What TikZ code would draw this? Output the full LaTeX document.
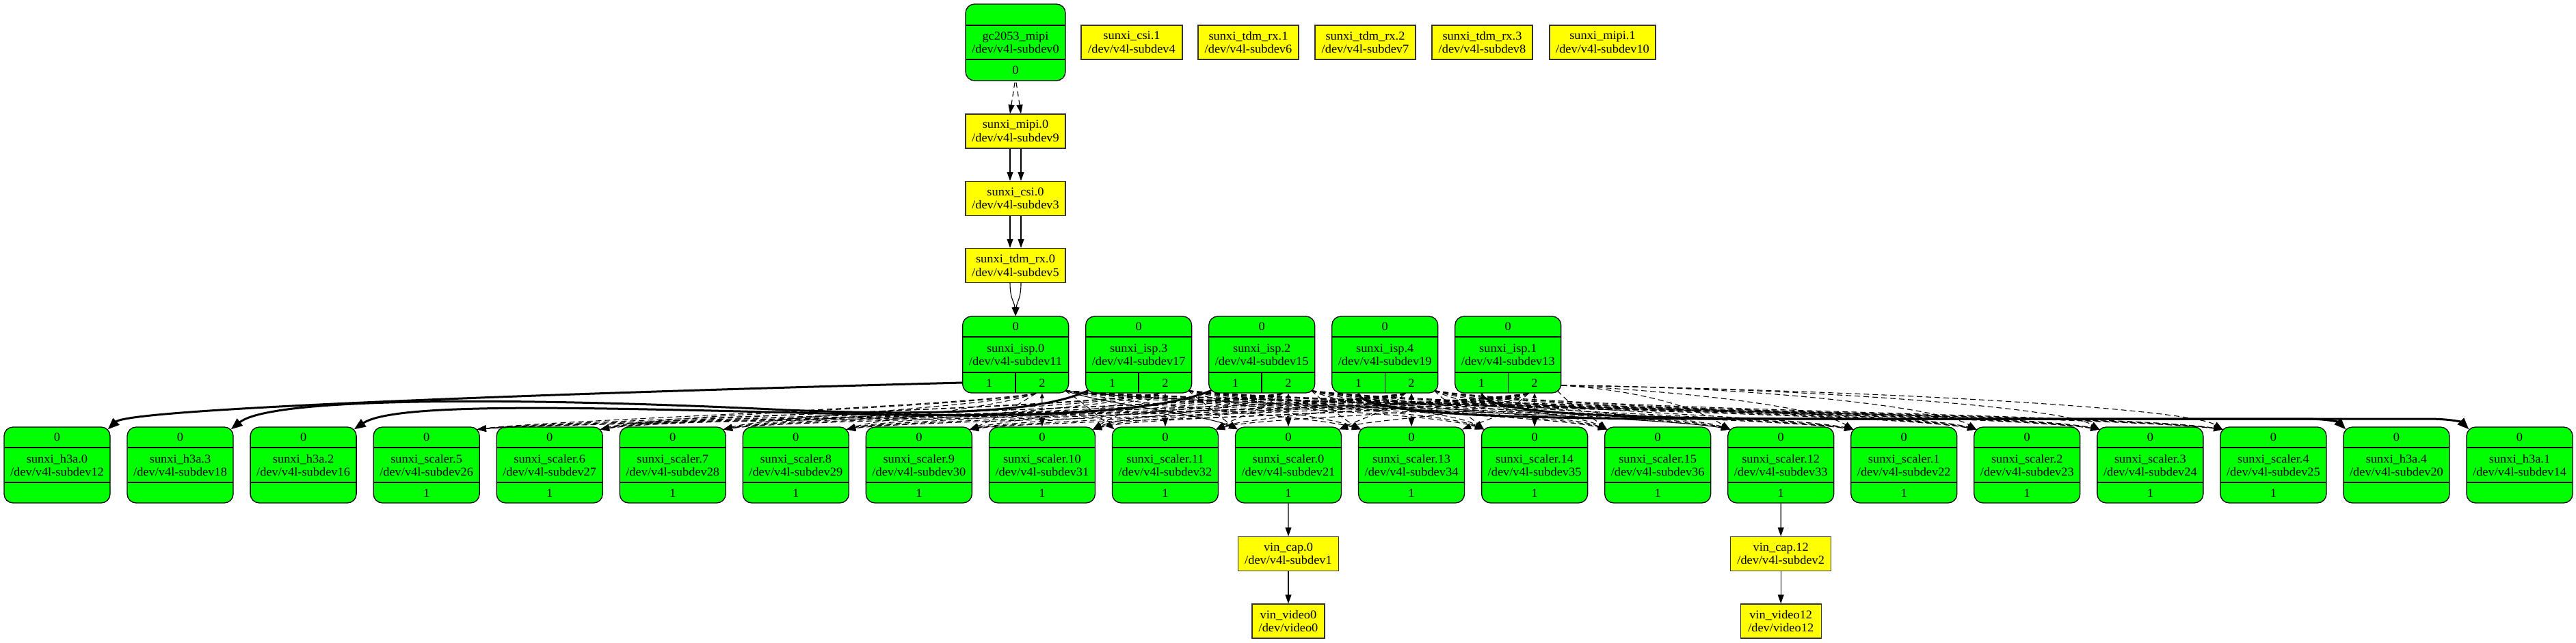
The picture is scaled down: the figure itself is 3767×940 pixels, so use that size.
\documentclass[tikz,border=0pt]{standalone}
\usepackage{fontspec}
\setmainfont{Liberation Serif}[FakeStretch=1.05]
\usetikzlibrary{arrows.meta,calc}
\definecolor{grn}{RGB}{0,255,0}
\definecolor{ylw}{RGB}{255,255,0}
\newif\iffarr
\tikzset{
  lbl/.style={font=\fontsize{17.5}{19.5}\selectfont, inner sep=0pt, align=center},
  mrec/.style={draw=black, line width=1.3pt, fill=grn, rounded corners=13pt, minimum width=155pt, minimum height=111pt, inner sep=0pt},
  ybox/.style={draw=black!80, line width=1.4pt, fill=ylw, minimum height=50pt, inner sep=0pt, lbl},
  sepl/.style={line width=1.5pt},
  ed/.style={line width=1.1pt, -{Triangle[length=13pt,width=9pt]}},
  ded/.style={ed, dash pattern=on 8pt off 5pt},
  bed/.style={line width=3pt, -{Triangle[length=17pt,width=13pt]}},
}
% bottom-row record node: name, index, title, device, output port
\newcommand\bnode[5]{%
  \pgfmathsetmacro\bX{83.5+180.05*#2}%
  \node[mrec] (#1) at (\bX,680.5) {};
  \draw[sepl] ({\bX-77},655) -- ({\bX+77},655);
  \draw[sepl] ({\bX-77},706) -- ({\bX+77},706);
  \node[lbl] (#1-in) at (\bX,640) {0};
  \node[lbl] (#1-tx) at (\bX,681) {#3\\#4};
  \node[lbl] (#1-out) at (\bX,721.5) {#5};
}
% isp record node: name, index, title, device
\newcommand\inode[4]{%
  \pgfmathsetmacro\iX{1485.1+180.05*#2}%
  \node[mrec, minimum height=112pt] (#1) at (\iX,519) {};
  \draw[sepl] ({\iX-77},493) -- ({\iX+77},493);
  \draw[sepl] ({\iX-77},545) -- ({\iX+77},545);
  \draw[sepl] (\iX,545) -- (\iX,575);
  \node[lbl] (#1-in) at (\iX,478) {0};
  \node[lbl] (#1-tx) at (\iX,519.5) {#3\\#4};
  \node[lbl] (#1-p1) at ({\iX-38.75},560.5) {1};
  \node[lbl] (#1-p2) at ({\iX+38.75},560.5) {2};
}
\begin{document}
\begin{tikzpicture}[x=1pt,y=-1pt]
\fill[white] (0,0) rectangle (3767,940);
\useasboundingbox (0,0) rectangle (3767,940);

% sensor
\node[mrec, minimum width=146pt, minimum height=112pt] (gc) at (1485,62) {};
\draw[sepl] (1413,37) -- (1557,37);
\draw[sepl] (1413,87) -- (1557,87);
\node[lbl] (gc-tx) at (1485,62.5) {gc2053\_mipi\\/dev/v4l-subdev0};
\node[lbl] (gc-out) at (1485,103) {0};

% top yellow boxes
\node[ybox, minimum width=148pt] (csi1) at (1655,62) {sunxi\_csi.1\\/dev/v4l-subdev4};
\node[ybox, minimum width=147pt] (tdm1) at (1825.5,62) {sunxi\_tdm\_rx.1\\/dev/v4l-subdev6};
\node[ybox, minimum width=147pt] (tdm2) at (1996.5,62) {sunxi\_tdm\_rx.2\\/dev/v4l-subdev7};
\node[ybox, minimum width=147pt] (tdm3) at (2167.5,62) {sunxi\_tdm\_rx.3\\/dev/v4l-subdev8};
\node[ybox, minimum width=155pt] (mipi1) at (2343.5,62) {sunxi\_mipi.1\\/dev/v4l-subdev10};

\node[ybox, minimum width=146pt] (mipi0) at (1485,192) {sunxi\_mipi.0\\/dev/v4l-subdev9};
\node[ybox, minimum width=146pt] (csi0) at (1485,290.5) {sunxi\_csi.0\\/dev/v4l-subdev3};
\node[ybox, minimum width=146pt] (tdm0) at (1485,388.5) {sunxi\_tdm\_rx.0\\/dev/v4l-subdev5};

% isp row
\inode{isp0}{0}{sunxi\_isp.0}{/dev/v4l-subdev11}
\inode{isp3}{1}{sunxi\_isp.3}{/dev/v4l-subdev17}
\inode{isp2}{2}{sunxi\_isp.2}{/dev/v4l-subdev15}
\inode{isp4}{3}{sunxi\_isp.4}{/dev/v4l-subdev19}
\inode{isp1}{4}{sunxi\_isp.1}{/dev/v4l-subdev13}

% bottom row
\bnode{h3a0}{0}{sunxi\_h3a.0}{/dev/v4l-subdev12}{}
\bnode{h3a3}{1}{sunxi\_h3a.3}{/dev/v4l-subdev18}{}
\bnode{h3a2}{2}{sunxi\_h3a.2}{/dev/v4l-subdev16}{}
\bnode{sc5}{3}{sunxi\_scaler.5}{/dev/v4l-subdev26}{1}
\bnode{sc6}{4}{sunxi\_scaler.6}{/dev/v4l-subdev27}{1}
\bnode{sc7}{5}{sunxi\_scaler.7}{/dev/v4l-subdev28}{1}
\bnode{sc8}{6}{sunxi\_scaler.8}{/dev/v4l-subdev29}{1}
\bnode{sc9}{7}{sunxi\_scaler.9}{/dev/v4l-subdev30}{1}
\bnode{sc10}{8}{sunxi\_scaler.10}{/dev/v4l-subdev31}{1}
\bnode{sc11}{9}{sunxi\_scaler.11}{/dev/v4l-subdev32}{1}
\bnode{sc0}{10}{sunxi\_scaler.0}{/dev/v4l-subdev21}{1}
\bnode{sc13}{11}{sunxi\_scaler.13}{/dev/v4l-subdev34}{1}
\bnode{sc14}{12}{sunxi\_scaler.14}{/dev/v4l-subdev35}{1}
\bnode{sc15}{13}{sunxi\_scaler.15}{/dev/v4l-subdev36}{1}
\bnode{sc12}{14}{sunxi\_scaler.12}{/dev/v4l-subdev33}{1}
\bnode{sc1}{15}{sunxi\_scaler.1}{/dev/v4l-subdev22}{1}
\bnode{sc2}{16}{sunxi\_scaler.2}{/dev/v4l-subdev23}{1}
\bnode{sc3}{17}{sunxi\_scaler.3}{/dev/v4l-subdev24}{1}
\bnode{sc4}{18}{sunxi\_scaler.4}{/dev/v4l-subdev25}{1}
\bnode{h3a4}{19}{sunxi\_h3a.4}{/dev/v4l-subdev20}{}
\bnode{h3a1}{20}{sunxi\_h3a.1}{/dev/v4l-subdev14}{}

% capture and video nodes
\node[ybox, minimum width=147pt] (cap0) at (1884,810.5) {vin\_cap.0\\/dev/v4l-subdev1};
\node[ybox, minimum width=106pt] (vid0) at (1884,909) {vin\_video0\\/dev/video0};
\node[ybox, minimum width=147pt] (cap12) at (2604.2,810.5) {vin\_cap.12\\/dev/v4l-subdev2};
\node[ybox, minimum width=118pt] (vid12) at (2604.2,909) {vin\_video12\\/dev/video12};

% chain edges
\draw[ded] ($(gc.south)+(-1,2)$) -- ($(mipi0.north)+(-8,0)$);
\draw[ded] ($(gc.south)+(1,2)$) -- ($(mipi0.north)+(8,0)$);
\draw[ed] ($(mipi0.south)+(-8,0)$) -- ($(csi0.north)+(-8,0)$);
\draw[ed] ($(mipi0.south)+(8,0)$) -- ($(csi0.north)+(8,0)$);
\draw[ed] ($(csi0.south)+(-8,0)$) -- ($(tdm0.north)+(-8,0)$);
\draw[ed] ($(csi0.south)+(8,0)$) -- ($(tdm0.north)+(8,0)$);
\draw[ed] ($(tdm0.south)+(-8,0)$) .. controls +(0,24) and +(-2,-22) .. (isp0.north);
\draw[ed] ($(tdm0.south)+(8,0)$) .. controls +(0,24) and +(2,-22) .. (isp0.north);

\draw[ed] (sc0.south) -- (cap0.north);
\draw[ed] (cap0.south) -- (vid0.north);
\draw[ed] (sc12.south) -- (cap12.north);
\draw[ed] (cap12.south) -- (vid12.north);

% isp -> scaler links
\foreach \k/\nI in {0/isp0,1/isp3,2/isp2,3/isp4,4/isp1}{
  \foreach \j/\nJ in {3/sc5,4/sc6,5/sc7,6/sc8,7/sc9,8/sc10,9/sc11,10/sc0,11/sc13,12/sc14,13/sc15,14/sc12,15/sc1,16/sc2,17/sc3,18/sc4}{
    \pgfmathsetmacro\xIs{1485.1+180.05*\k}
    \pgfmathsetmacro\xJs{83.5+180.05*\j}
    \pgfmathtruncatemacro\dJ{\j-8-\k}
    \pgfmathsetmacro\vJ{3*mod(\j,4)}
    \tikzset{cur/.style={ded}}
    \ifnum\k=0 \ifnum\j=10 \tikzset{cur/.style={ed}}\fi\ifnum\j=14 \tikzset{cur/.style={ed}}\fi\fi
    \ifnum\dJ=0
      \draw[cur, {Triangle[length=7pt,width=6pt]}-{Triangle[length=13pt,width=9pt]}] ($(\nI.south)+(38.75,0)$) -- (\nJ.north);
    \else
      \ifnum\dJ>0
        \farrfalse
        \ifnum\k=4 \ifnum\dJ>1 \farrtrue\fi\fi
        \iffarr
          \pgfmathsetmacro\sX{\xIs+78}
          \pgfmathsetmacro\eX{\xJs-73.5}
          \pgfmathsetmacro\cA{\sX+0.5*(\eX-\sX)}
          \pgfmathsetmacro\cB{\eX-50}
          \pgfmathsetmacro\cY{566+\vJ}
          \draw[cur] ($(\nI.east)+(0,45)$) .. controls (\cA,\cY) and (\cB,598) .. ($(\nJ.north west)+(4,4)$);
        \else
          \pgfmathsetmacro\sX{\xIs+72}
          \pgfmathsetmacro\eX{\xJs-73.5}
          \pgfmathsetmacro\cA{\sX+0.15*(\eX-\sX)+20}
          \pgfmathsetmacro\cY{592+3*\k}
          \pgfmathsetmacro\cB{\eX-0.1*(\eX-\sX)-25}
          \pgfmathsetmacro\dY{600+\vJ}
          \draw[cur] ($(\nI.south east)+(-6,-4)$) .. controls (\cA,\cY) and (\cB,\dY) .. ($(\nJ.north west)+(4,4)$);
        \fi
      \else
        \pgfmathsetmacro\sX{\xIs+30}
        \pgfmathsetmacro\eX{\xJs+73.5}
        \pgfmathsetmacro\cA{\sX-0.15*(\sX-\eX)-20}
        \pgfmathsetmacro\cY{597+3*\k}
        \pgfmathsetmacro\cB{\eX+0.1*(\sX-\eX)+25}
        \pgfmathsetmacro\dY{606+\vJ}
        \draw[cur] ($(\nI.south)+(30,0)$) .. controls (\cA,\cY) and (\cB,\dY) .. ($(\nJ.north east)+(-4,4)$);
      \fi
    \fi
  }
}

% isp -> h3a links (bold)
\draw[bed] ($(isp0.west)+(0,41)$) .. controls (800,576) and (190,598) .. ($(h3a0.north east)+(-4,4)$);
\draw[bed] ($(isp3.south west)+(4,-4)$) .. controls (1530,600) and (1400,610) .. (1150,600) .. controls (800,583) and (400,578) .. ($(h3a3.north east)+(-4,4)$);
\draw[bed] ($(isp2.south west)+(4,-4)$) .. controls (1700,600) and (1550,612) .. (1250,606) .. controls (900,598) and (580,586) .. ($(h3a2.north east)+(-4,4)$);
\draw[bed] ($(isp4.south)+(-38.75,0)$) .. controls +(5,30) and (2200,613) .. (2500,613) -- (3370,613) .. controls (3405,613) and (3420,618) .. ($(h3a4.north west)+(4,4)$);
\draw[bed] ($(isp1.south)+(-38.75,0)$) .. controls +(8,30) and (2350,613) .. (2700,613) -- (3550,613) .. controls (3585,613) and (3600,618) .. ($(h3a1.north west)+(4,4)$);
\end{tikzpicture}
\end{document}
